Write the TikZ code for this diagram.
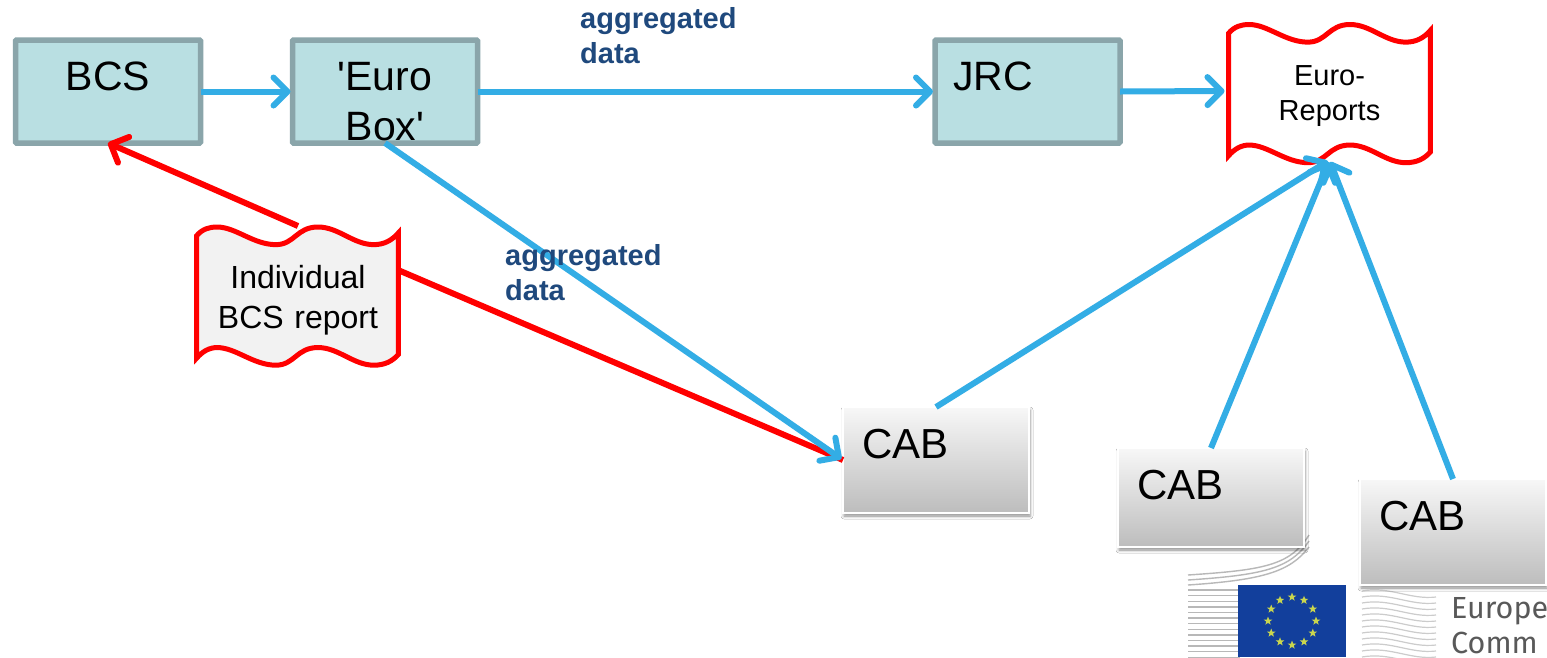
\documentclass[tikz,border=0pt]{standalone}
\usepackage{fontspec}
\newfontfamily\plainfont{Liberation Sans}
\setmainfont{Liberation Sans}
\newfontfamily\logofont{Fira Sans}
\usetikzlibrary{arrows.meta,shadows.blur,shapes.geometric}
\definecolor{boxfill}{HTML}{B9DFE2}
\definecolor{boxline}{HTML}{8AA5AA}
\definecolor{bluearrow}{HTML}{33ADE5}
\definecolor{labelblue}{HTML}{1F497D}
\definecolor{flagblue}{HTML}{123F9C}
\definecolor{stargreen}{HTML}{C9D64E}
\newcommand{\topline}[3]{\smash{\parbox[t]{#1}{#2 #3}}}
\newcommand{\wavedoc}[3]{%
  \draw[docline,fill=#3,shift={(#1,#2)},xscale=.98,yscale=.98]
    (0,9) .. controls (6,2) and (13,0) .. (21,0)
    .. controls (40,0) and (58,18) .. (81,18)
    .. controls (100,18) and (102,0) .. (124,0)
    .. controls (145,0) and (160,18) .. (181,18)
    .. controls (192,18) and (200,13) .. (206,6)
    -- (206,130)
    .. controls (200,137) and (192,141) .. (181,141)
    .. controls (160,141) and (145,123) .. (124,123)
    .. controls (102,123) and (100,141) .. (81,141)
    .. controls (58,141) and (40,123) .. (21,123)
    .. controls (13,123) and (6,127) .. (0,134)
    -- cycle;}
\tikzset{
  tealbox/.style={draw=boxline,fill=boxfill,line width=5.5pt,rounded corners=1pt,outer sep=0pt,
    inner xsep=18pt,inner ysep=0pt,text width=149pt,text height=50pt,text depth=53pt,
    font=\plainfont\fontsize{41}{49}\selectfont},
  cabbox/.style={draw=white,line width=2pt,top color=black!3,bottom color=black!26,
    blur shadow={shadow xshift=1pt,shadow yshift=-3pt,shadow blur radius=3pt,shadow opacity=45},
    outer sep=0pt,inner xsep=19pt,inner ysep=0pt,text width=148pt,text height=51pt,
    font=\fontsize{42}{50}\selectfont},
  docline/.style={draw=red,line width=5pt,miter limit=4},
  docnode/.style={inner sep=0pt,outer sep=0pt,text width=206pt},
  flow/.style={draw=bluearrow,line width=6pt,shorten >=2pt,-{Straight Barb[length=14pt,width=28pt,round]}},
  redflow/.style={draw=red,line width=6pt},
  redarrow/.style={redflow,-{Straight Barb[length=14pt,width=28pt,round]}},
  dlabel/.style={anchor=base west,inner sep=0pt,text=labelblue,font=\fontsize{29}{35}\selectfont\bfseries},
  stripe/.style={draw=black!28,line width=1.4pt},
  stripelight/.style={draw=black!20,line width=1.2pt},
  logotext/.style={anchor=base west,inner sep=0pt,text=black!65,font=\logofont\fontsize{30.5}{35}\selectfont},
}
\begin{document}
\begin{tikzpicture}[x=1pt,y=-1pt]
\useasboundingbox[fill=white] (0,0) rectangle (1547,657);
% logo
\foreach \i in {0,...,2}
  \draw[stripe] (1188,{575+\i*5}) .. controls (1262,{570+\i*5}) and (1290,{566+\i*3}) .. (1309,{535+\i*6});
\foreach \i in {0,...,12}
  \draw[stripe] (1188,{590+\i*5.6}) -- (1240,{590+\i*5.6});
\foreach \i in {0,...,11}
  \draw[stripelight] (1362,{591+\i*6}) .. controls (1390,{586+\i*6}) and (1410,{600+\i*6}) .. (1436,{597+\i*6});
\node[fill=flagblue,inner sep=0pt,minimum width=108pt,minimum height=72pt] (flag) at (1292,621) {};
\foreach \a in {0,30,...,330}
  \node[star,star points=5,star point ratio=2.4,fill=stargreen,inner sep=0pt,minimum size=9pt]
    (s\a) at ([shift={(\a:24pt)}]flag.center) {};
\node[logotext] (logoa) at (1451,618) {Europe};
\node[logotext] (logob) at (1451,653) {Comm};
% boxes
\node[tealbox] (bcs) at (108,91.5) {\topline{149pt}{\centering}{BCS}};
\node[tealbox] (euro) at (385,91.5) {\topline{149pt}{\centering}{'Euro\\[1pt]Box'}};
\node[tealbox] (jrc) at (1027.5,91.5) {\topline{149pt}{\raggedright}{JRC}};
\node[cabbox,text depth=55pt] (cabone) at (936,460) {\topline{148pt}{\raggedright}{CAB}};
\node[cabbox,text depth=48pt] (cabtwo) at (1211,497.5) {\topline{148pt}{\raggedright}{CAB}};
\node[cabbox,text depth=55pt] (cabthree) at (1453,532) {\topline{148pt}{\raggedright}{CAB}};
% report documents
\wavedoc{196.5}{227}{black!5}
\wavedoc{1228.5}{24.5}{white}
\node[docnode,text height=62pt,text depth=78pt,font=\fontsize{32}{40}\selectfont] (ind) at (298,296)
  {\topline{206pt}{\centering}{Individual\\BCS report}};
\node[docnode,text height=63pt,text depth=75pt,font=\fontsize{29}{35}\selectfont] (rep) at (1329.5,91)
  {\topline{206pt}{\centering}{Euro-\\Reports}};
% red connectors
\draw[redarrow] (ind.north) -- (bcs.south);
\draw[redflow] ([yshift=26pt,xshift=-3pt]ind.east) -- (cabone.west);
% blue connectors
\draw[flow] (bcs.east) -- (euro.west);
\draw[flow] (euro.east) -- (jrc.west);
\draw[flow] (jrc.east) -- (rep.west);
\draw[flow] (euro.south) -- (cabone.west);
\draw[flow] (cabone.north) -- (rep.south);
\draw[flow] (cabtwo.north) -- (rep.south);
\draw[flow] (cabthree.north) -- (rep.south);
% labels
\node[dlabel] (labelone) at (580,28) {\topline{200pt}{\raggedright}{aggregated\\data}};
\node[dlabel] (labeltwo) at (505,265) {\topline{200pt}{\raggedright}{aggregated\\data}};
\end{tikzpicture}
\end{document}
